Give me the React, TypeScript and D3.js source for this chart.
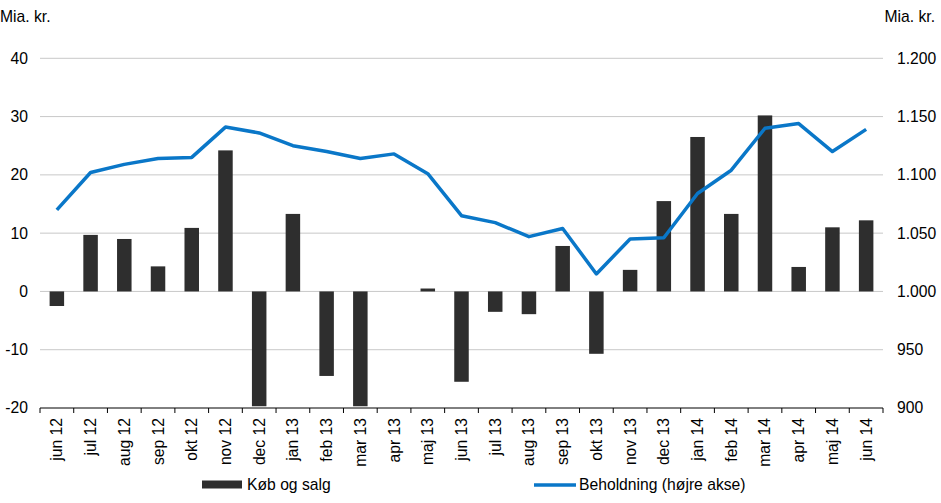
import React from "react";
import * as d3 from "d3";

const categories = ["jun 12","jul 12","aug 12","sep 12","okt 12","nov 12","dec 12","jan 13","feb 13","mar 13","apr 13","maj 13","jun 13","jul 13","aug 13","sep 13","okt 13","nov 13","dec 13","jan 14","feb 14","mar 14","apr 14","maj 14","jun 14"];
const kobOgSalg = [-2.5, 9.7, 9.0, 4.3, 10.9, 24.2, -19.7, 13.3, -14.5, -19.7, 0, 0.5, -15.5, -3.5, -3.9, 7.8, -10.7, 3.7, 15.5, 26.5, 13.3, 30.2, 4.2, 11.0, 12.2];
const beholdning = [1070, 1102, 1109, 1114, 1115, 1141, 1136, 1125, 1120, 1114, 1118, 1101, 1065, 1059, 1047, 1054, 1015, 1045, 1046, 1084, 1104, 1140, 1144, 1120, 1139];
const leftTicks = [-20, -10, 0, 10, 20, 30, 40];
const rightTicks = [900, 950, 1000, 1050, 1100, 1150, 1200];
const unitLabel = "Mia. kr.";
const legendBar = "Køb og salg";
const legendLine = "Beholdning (højre akse)";

const W = 941, H = 503;
const left = 40, right = 883, top = 58.3, bottom = 408;
const font = "'Liberation Sans', Arial, sans-serif";
const fs = 15.7;
const fmtRight = (v: number) => d3.format(",")(v).replace(/,/g, ".");

export default function App() {
  const x = d3.scaleBand<string>().domain(categories).range([left, right]).paddingInner(0.57).paddingOuter(0.285);
  const xb = d3.scaleBand<string>().domain(categories).range([left, right]);
  const yL = d3.scaleLinear().domain([-20, 40]).range([bottom, top]);
  const yR = d3.scaleLinear().domain([900, 1200]).range([bottom, top]);
  const line = d3.line<number>()
    .x((_, i) => (xb(categories[i]) as number) + xb.bandwidth() / 2)
    .y((d) => yR(d));
  const boundaries = categories.map((c) => xb(c) as number).concat([right]);
  return (
    <svg width={W} height={H} style={{ position: "absolute", left: 0, top: 0, background: "#fff" }} fontFamily={font}>
      {leftTicks.filter((t) => t !== -20).map((t) => (
        <line key={"g" + t} x1={left} x2={right} y1={yL(t)} y2={yL(t)} stroke="#c8c8c8" strokeWidth={1} />
      ))}
      {kobOgSalg.map((v, i) => (
        <rect key={"b" + i} x={x(categories[i])} width={x.bandwidth()}
          y={yL(Math.max(0, v))} height={Math.abs(yL(v) - yL(0))} fill="#2e2e2e" />
      ))}
      <path d={line(beholdning) || ""} fill="none" stroke="#0a77c8" strokeWidth={3.5} strokeLinejoin="round" />
      <line x1={left} x2={right} y1={bottom} y2={bottom} stroke="#000" strokeWidth={1} />
      {boundaries.map((b, i) => (
        <line key={"t" + i} x1={b} x2={b} y1={bottom} y2={bottom + 5} stroke="#000" />
      ))}
      {leftTicks.map((t) => (
        <text key={"l" + t} x={28} y={yL(t)} dy="0.35em" textAnchor="end" fontSize={fs} fill="#000">{t}</text>
      ))}
      {rightTicks.map((t) => (
        <text key={"r" + t} x={897} y={yR(t)} dy="0.35em" textAnchor="start" fontSize={fs} fill="#000">{fmtRight(t)}</text>
      ))}
      {categories.map((c) => {
        const cx = (xb(c) as number) + xb.bandwidth() / 2;
        return (
          <text key={"c" + c} transform={`translate(${cx + 5.5},418) rotate(-90)`} textAnchor="end" fontSize={fs} fill="#000">{c}</text>
        );
      })}
      <text x={0} y={22} fontSize={fs} fill="#000">{unitLabel}</text>
      <text x={935} y={22} fontSize={fs} textAnchor="end" fill="#000">{unitLabel}</text>
      <rect x={202} y={480.5} width={40} height={8} fill="#2e2e2e" />
      <text x={247} y={490} fontSize={fs} fill="#000">{legendBar}</text>
      <line x1={534} x2={576} y1={485} y2={485} stroke="#0a77c8" strokeWidth={3.5} />
      <text x={579} y={490} fontSize={fs} fill="#000">{legendLine}</text>
    </svg>
  );
}
